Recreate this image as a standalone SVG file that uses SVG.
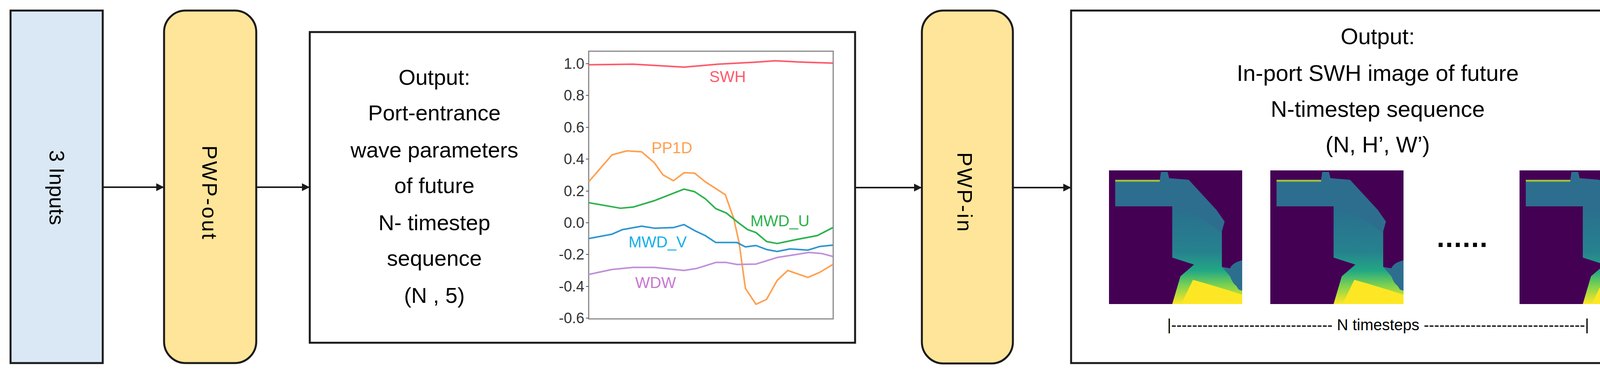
<svg xmlns="http://www.w3.org/2000/svg" xmlns:xlink="http://www.w3.org/1999/xlink" width="4372" height="957" viewBox="0 0 4372 957">
<style>
.box{stroke:#1a1a1a;stroke-width:5}
.t{font-family:"Liberation Sans",Arial,sans-serif;fill:#000;text-anchor:middle}
.tick{font-family:"Liberation Sans",Arial,sans-serif;fill:#333;font-size:38px;text-anchor:end}
.lab{font-family:"Liberation Sans",Arial,sans-serif;font-size:40px}
.cv{fill:none;stroke-width:4;vector-effect:non-scaling-stroke;stroke-linejoin:round}
.conn{stroke:#1a1a1a;stroke-width:4;fill:none;marker-end:url(#ah)}
</style>
<defs>
<marker id="ah" viewBox="0 0 10 10" refX="10" refY="5" markerWidth="5" markerHeight="5" orient="auto" markerUnits="strokeWidth"><path d="M0,0L10,5L0,10z" fill="#1a1a1a"/></marker>
<linearGradient id="sw" x1="0" y1="0" x2="0" y2="1">
<stop offset="0" stop-color="#2a6f8e"/><stop offset="0.45" stop-color="#26828e"/><stop offset="0.65" stop-color="#22a884"/><stop offset="0.8" stop-color="#7ad151"/><stop offset="1" stop-color="#fde725"/></linearGradient>
<g id="swh">
<rect width="341" height="342" fill="#440154"/>
<polygon fill="#2d6e8e" points="16,24 130,24 133,4 150,4 154,20 204,24 275,101 296,131 289,156 289,247 341,256 341,342 162,342 183,271 218,241 162,223 162,92 16,92"/>
<polygon fill="url(#sw)" points="162,100 205,100 289,160 289,247 310,271 332,305 341,308 341,342 162,342 183,271 218,241 162,223"/>
<polygon fill="#fde725" points="185,342 215,280 250,290 300,305 341,318 341,342"/>
<rect x="16" y="24" width="114" height="5" fill="#9bbf3a"/>
<path d="M310,271 Q300,240 341,230 L341,300 Q320,300 310,271z" fill="#2d6e8e"/>
</g>
</defs>
<g id="connectors">
<line class="conn" x1="263" y1="479" x2="420" y2="479"/>
<line class="conn" x1="656" y1="479" x2="793" y2="479"/>
<line class="conn" x1="2189" y1="480" x2="2360" y2="480"/>
<line class="conn" x1="2593" y1="480" x2="2742" y2="480"/>
</g>
<g id="inputs">
<rect class="box" x="27" y="27" width="236" height="902" fill="#dae8f5"/>
<text class="t" font-size="54" transform="translate(127,480) rotate(90)">3 Inputs</text>
</g>
<g id="pwp-out">
<rect class="box" x="420" y="27" width="236" height="902" rx="55" fill="#fee599"/>
<text class="t" font-size="54" letter-spacing="4" transform="translate(518,494) rotate(90)">PWP-out</text>
</g>
<g id="output1">
<rect class="box" x="793" y="82" width="1396" height="795" fill="#fff"/>
<g class="t" font-size="56">
<text x="1112" y="217">Output:</text>
<text x="1112" y="308">Port-entrance</text>
<text x="1112" y="403">wave parameters</text>
<text x="1112" y="494">of future</text>
<text x="1112" y="589">N- timestep</text>
<text x="1112" y="680">sequence</text>
<text x="1112" y="775">(N , 5)</text>
</g>
<g id="chart">
<rect x="1507" y="131" width="626" height="685" fill="#fff" stroke="#888" stroke-width="3"/>
<g stroke="#555" stroke-width="2">
<line x1="1500" y1="163" x2="1507" y2="163"/><line x1="1500" y1="244" x2="1507" y2="244"/><line x1="1500" y1="326" x2="1507" y2="326"/><line x1="1500" y1="407" x2="1507" y2="407"/><line x1="1500" y1="489" x2="1507" y2="489"/><line x1="1500" y1="570" x2="1507" y2="570"/><line x1="1500" y1="651" x2="1507" y2="651"/><line x1="1500" y1="733" x2="1507" y2="733"/><line x1="1500" y1="814" x2="1507" y2="814"/>
</g>
<text class="tick" x="1496" y="176">1.0</text><text class="tick" x="1496" y="257">0.8</text><text class="tick" x="1496" y="339">0.6</text><text class="tick" x="1496" y="420">0.4</text><text class="tick" x="1496" y="502">0.2</text><text class="tick" x="1496" y="583">0.0</text><text class="tick" x="1496" y="664">-0.2</text><text class="tick" x="1496" y="746">-0.4</text><text class="tick" x="1496" y="827">-0.6</text>
<g transform="translate(1350,80) scale(0.542,0.51)">
<polyline class="cv" stroke="#ff5a6a" points="290,168 500,165 740,180 900,165 1080,155 1170,148 1300,155 1443,160"/>
<polyline class="cv" stroke="#ffa050" points="290,755 400,620 470,600 540,605 600,660 640,720 690,750 740,710 790,712 840,755 935,820 975,940 1000,1060 1030,1290 1080,1370 1130,1345 1180,1250 1230,1200 1325,1235 1380,1210 1443,1170"/>
<polyline class="cv" stroke="#2bb24c" points="290,860 440,888 500,882 600,850 740,792 790,805 840,840 890,890 940,912 990,955 1040,995 1080,1010 1130,1055 1180,1065 1270,1045 1370,1025 1443,985"/>
<polyline class="cv" stroke="#2e96d0" points="290,1040 400,1018 450,995 540,978 600,988 690,985 740,970 790,1000 840,1025 890,1060 990,1060 1030,1082 1080,1075 1130,1095 1180,1105 1240,1092 1325,1098 1380,1080 1443,1073"/>
<polyline class="cv" stroke="#c090d8" points="290,1220 400,1195 500,1185 600,1185 740,1200 800,1190 890,1160 940,1160 990,1170 1080,1168 1180,1135 1240,1125 1330,1110 1390,1115 1443,1130"/>
</g>
<text class="lab" x="1816" y="210" fill="#ff5a6a">SWH</text>
<text class="lab" x="1668" y="392" fill="#ffa050">PP1D</text>
<text class="lab" x="1921" y="579" fill="#2bb24c">MWD_U</text>
<text class="lab" x="1609" y="633" fill="#10b0e8">MWD_V</text>
<text class="lab" x="1626" y="737" fill="#c878d0">WDW</text>
</g>
</g>
<g id="pwp-in">
<rect class="box" x="2360" y="27" width="233" height="903" rx="55" fill="#fee599"/>
<text class="t" font-size="54" letter-spacing="4" transform="translate(2451,493) rotate(90)">PWP-in</text>
</g>
<g id="output2">
<rect class="box" x="2742" y="27" width="1611" height="902" fill="#fff"/>
<g class="t" font-size="58">
<text x="3527" y="113">Output:</text>
<text x="3527" y="207">In-port SWH image of future</text>
<text x="3527" y="299">N-timestep sequence</text>
<text x="3527" y="390">(N, H’, W’)</text>
</g>
<use xlink:href="#swh" x="2839" y="436"/>
<use xlink:href="#swh" x="3252" y="436"/>
<use xlink:href="#swh" x="3890" y="436"/>
<text class="t" x="3744" y="632" font-size="72" font-weight="bold" letter-spacing="2">......</text>
<text class="t" x="3528" y="845" font-size="40">|------------------------------- N timesteps -------------------------------|</text>
</g>
</svg>
